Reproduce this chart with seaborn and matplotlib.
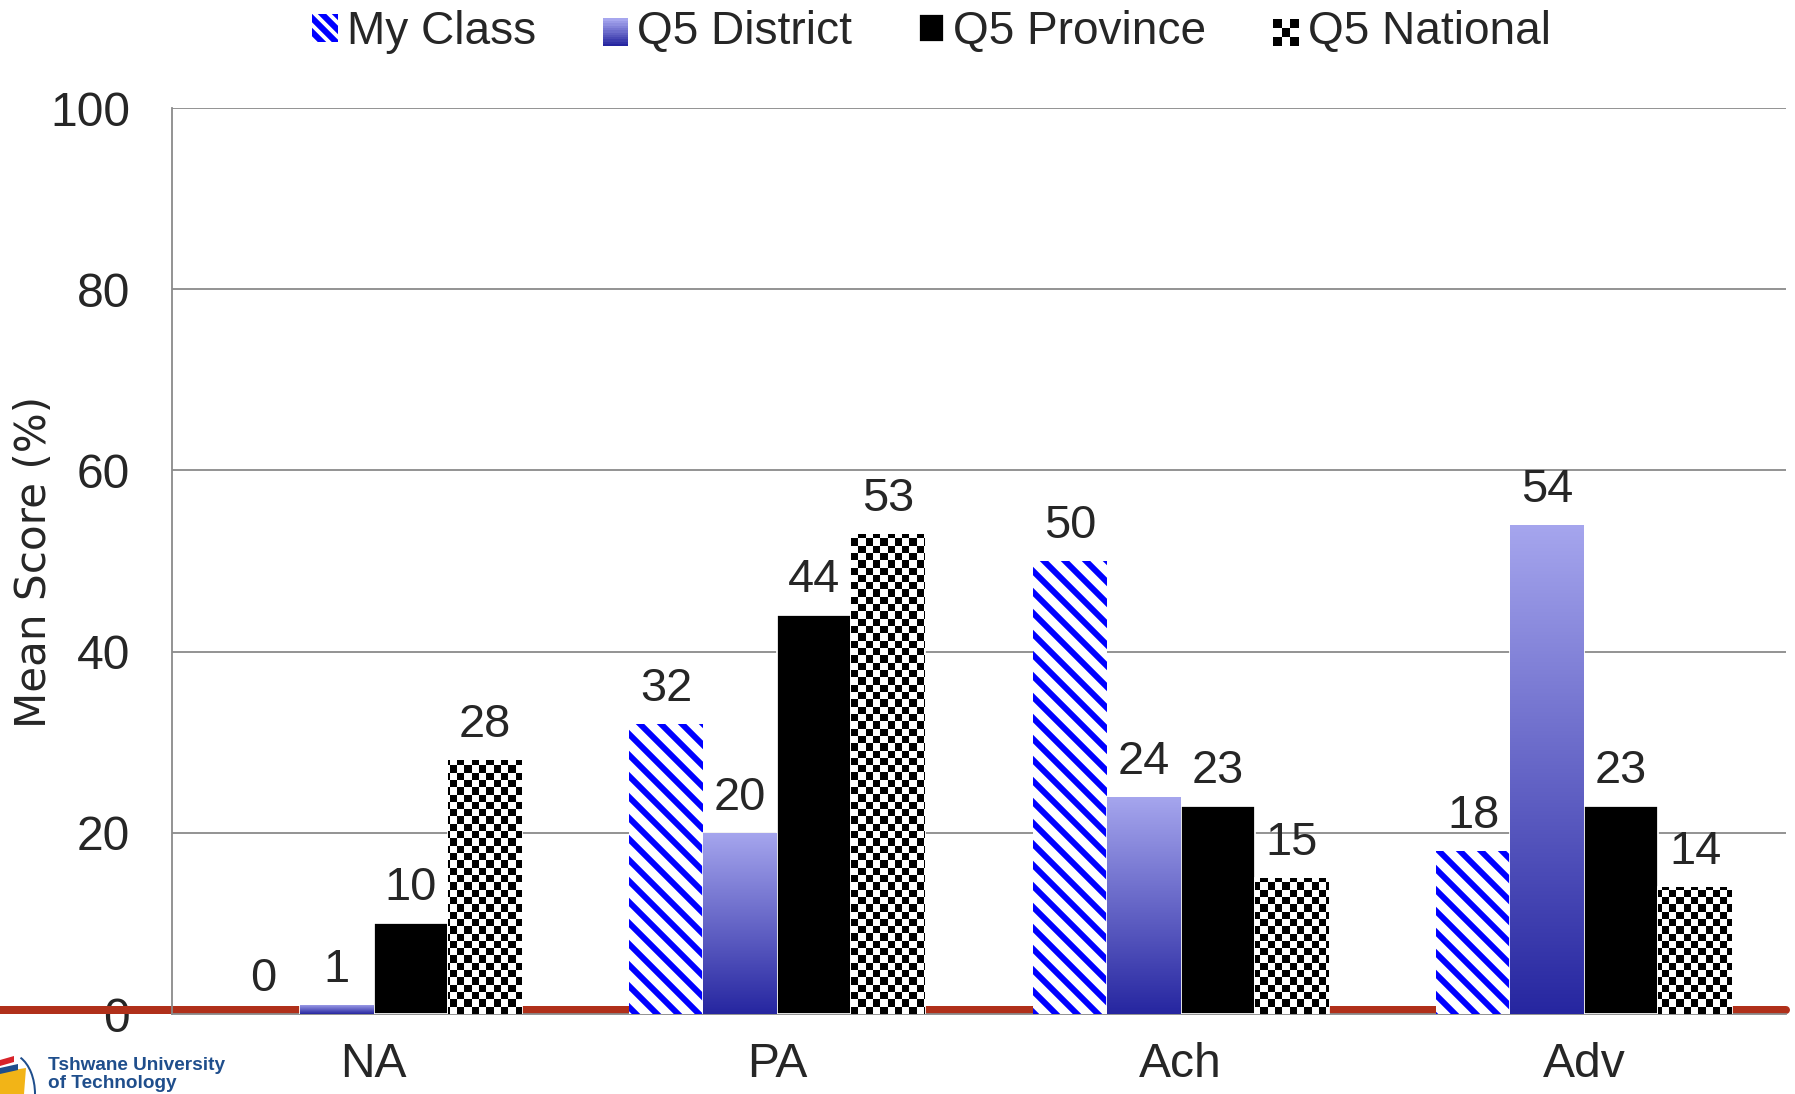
"""
Mean score per achievement level: class vs district / province / national
"""

import numpy as np
import pandas as pd
import matplotlib.pyplot as plt
import seaborn as sns
from matplotlib.patches import Rectangle, Patch, Polygon, Arc
from matplotlib.legend_handler import HandlerBase
from matplotlib.colors import LinearSegmentedColormap
import matplotlib.font_manager as fm

# Datos
niveles = ['NA', 'PA', 'Ach', 'Adv']
grupos = ['My Class', 'Q5 District', 'Q5 Province', 'Q5 National']
my_class = [0, 32, 50, 18]
q5_district = [1, 20, 24, 54]
q5_province = [10, 44, 23, 23]
q5_national = [28, 53, 15, 14]
y_ticks = [0, 20, 40, 60, 80, 100]

DPI = 126
W, H = 1795, 1094


def pt(px):
    """pixeles -> puntos"""
    return px * 72 / DPI


sns.set_style("white")
familias = [f.name for f in fm.fontManager.ttflist]
fuente = 'Liberation Sans Narrow' if 'Liberation Sans Narrow' in familias else 'Liberation Sans'
plt.rcParams['font.family'] = [fuente, 'DejaVu Sans']
plt.rcParams['hatch.linewidth'] = pt(6)

AZUL = '#0000ff'
GRIS = '#8a8a8a'
grad_cmap = LinearSegmentedColormap.from_list('grad', ['#2626a0', '#a6a6ee'])

df = pd.DataFrame({
    'nivel': niveles * 4,
    'grupo': sum([[g] * 4 for g in grupos], []),
    'score': my_class + q5_district + q5_province + q5_national,
})

fig = plt.figure(figsize=(W / DPI, H / DPI), dpi=DPI)
ax = fig.add_axes([172 / W, 1 - 1014 / H, (1786 - 172) / W, (1014 - 108) / H])

sns.barplot(data=df, x='nivel', y='score', hue='grupo', order=niveles,
            hue_order=grupos, palette=['white', '#6b6bcc', 'black', 'white'],
            width=0.733, saturation=1, legend=False, ax=ax, zorder=3)

ax.set_xlim(-0.5, 3.5)
ax.set_ylim(0, 100)
ax.set_yticks(y_ticks)
ax.yaxis.grid(True, color=GRIS, linewidth=pt(1.8), zorder=0)
ax.set_axisbelow(True)
for s in ['top', 'right']:
    ax.spines[s].set_visible(False)
for s in ['left', 'bottom']:
    ax.spines[s].set_color(GRIS)
    ax.spines[s].set_linewidth(pt(1.8))

ax.tick_params(axis='y', length=pt(14), width=pt(1.8), color=GRIS,
               labelsize=pt(48), pad=pt(28))
ax.tick_params(axis='x', length=0, labelsize=pt(48), pad=pt(28))
ax.set_xticks(np.arange(-0.5, 4, 1), minor=True)
ax.tick_params(axis='x', which='minor', length=pt(16), width=pt(1.8), color=GRIS)
ax.set_xlabel('')
ax.set_ylabel('')

# linea roja en la base
ax.plot([-1.0, 1.0], [0.45, 0.45], transform=ax.get_yaxis_transform(),
        color='#b0301a', linewidth=pt(8), clip_on=False, zorder=2)

containers = ax.containers

# My Class: rayado azul
for bar in containers[0]:
    bar.set_facecolor('white')
    bar.set_edgecolor(AZUL)
    bar.set_linewidth(0)
    bar.set_hatch('\\\\')

# District: degradado vertical
for bar in containers[1]:
    x0, y0 = bar.get_x(), bar.get_y()
    w, h = bar.get_width(), bar.get_height()
    grad = np.linspace(0, 1, 256).reshape(-1, 1)
    img = ax.imshow(grad, cmap=grad_cmap, origin='lower', aspect='auto',
                    extent=[x0, x0 + w, y0, y0 + max(h, 0.01)], zorder=3.5)
    img.set_clip_path(bar)

# National: tablero de ajedrez
ancho_px, alto_px = 1786 - 172, 1014 - 108
nx, ny = int(ancho_px / 7.3), int(alto_px / 7.3)
ii, jj = np.indices((ny, nx))
tablero = (ii + jj) % 2
for bar in containers[3]:
    img = ax.imshow(tablero, cmap='gray', interpolation='nearest', aspect='auto',
                    extent=[0, 1, 0, 1], transform=ax.transAxes, zorder=3.5)
    img.set_clip_path(bar)
ax.set_xlim(-0.5, 3.5)
ax.set_ylim(0, 100)

# etiquetas de valores
for cont, vals in zip(containers, [my_class, q5_district, q5_province, q5_national]):
    ax.bar_label(cont, labels=[str(v) for v in vals], padding=pt(13),
                 fontsize=pt(47), zorder=5)


class HandlerDegradado(HandlerBase):
    def create_artists(self, legend, orig, xd, yd, width, height, fontsize, trans):
        n = 12
        arts = []
        for k in range(n):
            c = grad_cmap(k / (n - 1))
            arts.append(Rectangle((xd, yd + k * height / n), width, height / n + 0.3,
                                  facecolor=c, edgecolor='none', transform=trans))
        return arts


class HandlerTablero(HandlerBase):
    def create_artists(self, legend, orig, xd, yd, width, height, fontsize, trans):
        n = 3
        arts = [Rectangle((xd, yd), width, height, facecolor='white',
                          edgecolor='none', transform=trans)]
        for a in range(n):
            for b in range(n):
                if (a + b) % 2 == 0:
                    arts.append(Rectangle((xd + a * width / n, yd + b * height / n),
                                          width / n, height / n, facecolor='black',
                                          edgecolor='none', transform=trans))
        return arts


h_class = Patch(facecolor='white', edgecolor=AZUL, linewidth=0, hatch='\\\\\\')
h_dist = Patch(facecolor='#6b6bcc')
h_prov = Patch(facecolor='black')
h_nat = Patch(facecolor='white')
fig.legend([h_class, h_dist, h_prov, h_nat], grupos, loc='center',
           bbox_to_anchor=(0.519, 1 - 32 / H), ncol=4, frameon=False, fontsize=pt(46),
           handlelength=0.55, handleheight=0.55, handletextpad=0.2, columnspacing=1.45,
           handler_map={h_dist: HandlerDegradado(), h_nat: HandlerTablero()})

fig.text(34 / W, 1 - 562 / H, 'Mean Score (%)', rotation=90, fontsize=pt(42),
         family='DejaVu Sans', ha='center', va='center')

# logo
fig.text(48 / W, 1 - 1066 / H, 'Tshwane University', fontsize=pt(19), color='#1f4e8c',
         fontweight='bold', ha='left', va='center')
fig.text(48 / W, 1 - 1083 / H, 'of Technology', fontsize=pt(19), color='#1f4e8c',
         fontweight='bold', ha='left', va='center')
fig.add_artist(Polygon([[0, 1 - 1072 / H], [26 / W, 1 - 1068 / H], [24 / W, 1 - 1094 / H],
                        [0, 1 - 1094 / H]], closed=True, transform=fig.transFigure,
                       facecolor='#f2b417', edgecolor='none'))
fig.add_artist(Polygon([[0, 1 - 1060 / H], [14 / W, 1 - 1056 / H], [14 / W, 1 - 1062 / H],
                        [0, 1 - 1066 / H]], closed=True, transform=fig.transFigure,
                       facecolor='#d8232a', edgecolor='none'))
fig.add_artist(Polygon([[0, 1 - 1068 / H], [18 / W, 1 - 1064 / H], [18 / W, 1 - 1070 / H],
                        [0, 1 - 1074 / H]], closed=True, transform=fig.transFigure,
                       facecolor='#1f4e8c', edgecolor='none'))
fig.add_artist(Arc((10 / W, 1 - 1094 / H), 50 / W, 80 / H, theta1=0, theta2=80,
                   transform=fig.transFigure, color='#1f4e8c', linewidth=pt(2)))

fig.savefig('out.png', dpi=DPI)
